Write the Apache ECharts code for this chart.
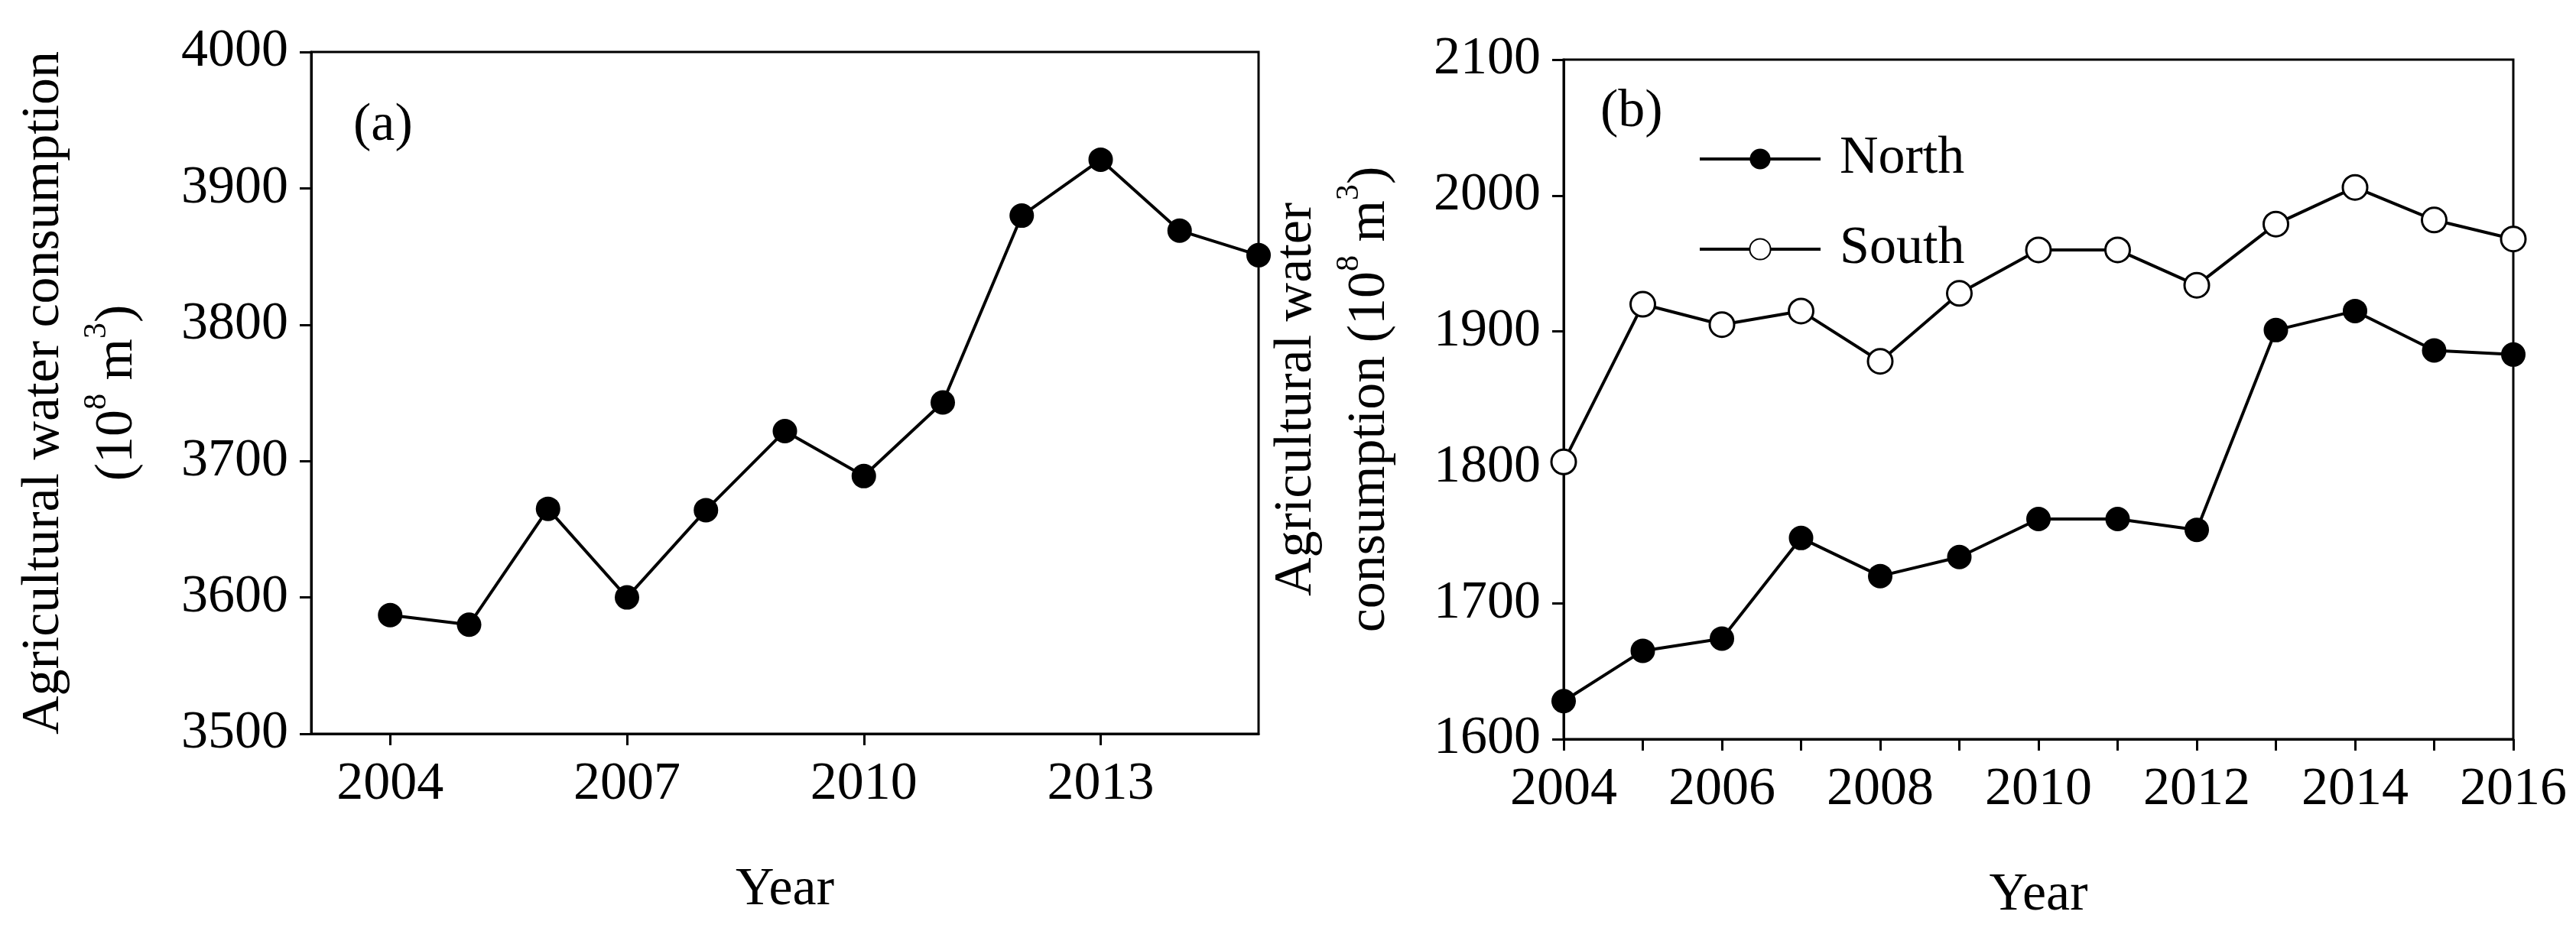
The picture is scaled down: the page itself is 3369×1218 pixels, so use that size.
<!DOCTYPE html>
<html><head><meta charset="utf-8">
<script src="https://cdn.jsdelivr.net/npm/echarts@6/dist/echarts.min.js"></script>
<style>html,body{margin:0;padding:0;background:#fff}#c{width:3369px;height:1218px}</style>
</head><body><div id="c"></div>
<script>
const yearsA = [2004,2005,2006,2007,2008,2009,2010,2011,2012,2013,2014,2015];
const totalA = [3587,3580,3665,3600,3664,3722,3689,3743,3880,3921,3869,3851];
const yearsB = [2004,2005,2006,2007,2008,2009,2010,2011,2012,2013,2014,2015,2016];
const north = [1628,1665,1674,1748,1720,1734,1762,1762,1754,1901,1915,1886,1883];
const south = [1804,1920,1905,1915,1878,1928,1960,1960,1934,1979,2006,1982,1968];
const ticksA = [2004,2007,2010,2013];

const F = 'Liberation Serif';
const fs = 70;
const ax = {lineStyle:{color:'#000',width:3}};
const sup = {fontSize:42, fontFamily:F, color:'#000', verticalAlign:'top', lineHeight:48, padding:[0,0,32,0]};
const plain = v=>String(v);
const chart = echarts.init(document.getElementById('c'));
function xAxis(idx,min,max,extra){
  return Object.assign({type:'value',gridIndex:idx,min:min,max:max,name:'Year',nameLocation:'middle',nameGap:170,
    nameTextStyle:{fontFamily:F,fontSize:fs,color:'#000'},axisLine:ax,splitLine:{show:false},
    axisTick:{show:true,inside:false,length:15,lineStyle:{color:'#000',width:3}},
    axisLabel:{fontFamily:F,fontSize:fs,color:'#000',margin:32,formatter:plain}},extra);
}
function yAxis(idx,min,max,name){
  return {type:'value',gridIndex:idx,min:min,max:max,interval:100,name:name,nameLocation:'middle',nameRotate:90,nameGap:205,
    nameTextStyle:{fontFamily:F,fontSize:fs,color:'#000',lineHeight:96,rich:{sup:sup}},
    axisLine:ax,splitLine:{show:false},axisTick:{length:15,lineStyle:{color:'#000',width:3}},
    axisLabel:{fontFamily:F,fontSize:fs,color:'#000',margin:30,formatter:plain}};
}
chart.setOption({
  animation:false,
  grid:[{left:407,right:1723,top:68,bottom:258,show:true,borderColor:'#000',borderWidth:3},
        {left:2045,right:82,top:78,bottom:251,show:true,borderColor:'#000',borderWidth:3}],
  xAxis:[xAxis(0,2003,2015,{axisTick:{show:true,length:15,lineStyle:{color:'#000',width:3},customValues:ticksA},axisLabel:{fontFamily:F,fontSize:fs,color:'#000',margin:32,customValues:ticksA,formatter:plain}}),
         xAxis(1,2004,2016,{interval:1,axisLabel:{fontFamily:F,fontSize:fs,color:'#000',margin:32,interval:0,formatter:v=>v%2===0?String(v):''}})],
  yAxis:[yAxis(0,3500,4000,'Agricultural water consumption\n(10{sup|8} m{sup|3})'),
         yAxis(1,1600,2100,'Agricultural water\nconsumption (10{sup|8} m{sup|3})')],
  legend:{left:2216,top:168,orient:'vertical',itemWidth:158,itemHeight:34,itemGap:48,
    lineStyle:{width:4,color:'#000'},
    textStyle:{fontFamily:F,fontSize:fs,color:'#000',padding:[0,0,0,20]},data:['North','South']},
  graphic:[{type:'text',left:462,top:130,style:{text:'(a)',fontFamily:F,fontSize:fs,fill:'#000'}},
           {type:'text',left:2093,top:112,style:{text:'(b)',fontFamily:F,fontSize:fs,fill:'#000'}}],
  series:[
    {type:'line',xAxisIndex:0,yAxisIndex:0,data:yearsA.map((y,i)=>[y,totalA[i]]),symbol:'circle',symbolSize:32,
      lineStyle:{color:'#000',width:4},itemStyle:{color:'#000'}},
    {name:'North',type:'line',xAxisIndex:1,yAxisIndex:1,data:yearsB.map((y,i)=>[y,north[i]]),symbol:'circle',symbolSize:32,
      lineStyle:{color:'#000',width:4},itemStyle:{color:'#000'}},
    {name:'South',type:'line',xAxisIndex:1,yAxisIndex:1,data:yearsB.map((y,i)=>[y,south[i]]),symbol:'circle',symbolSize:32,
      lineStyle:{color:'#000',width:4},itemStyle:{color:'#fff',borderColor:'#000',borderWidth:3}}
  ]
});
</script></body></html>
